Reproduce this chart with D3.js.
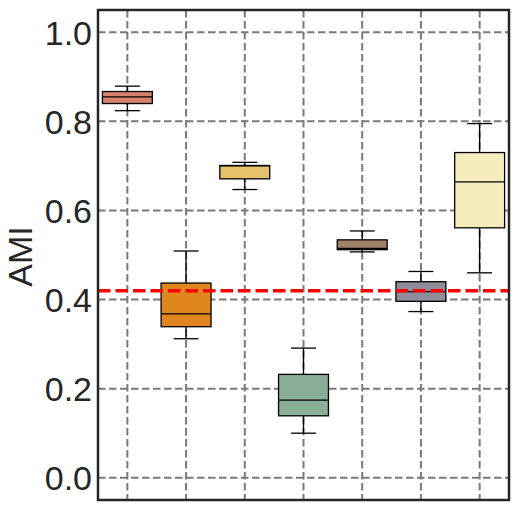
<!DOCTYPE html>
<html>
<head>
<meta charset="utf-8">
<script src="https://d3js.org/d3.v7.min.js"></script>
<style>
body { margin: 0; background: #fff; }
svg text { font-family: "Liberation Sans", Arial, sans-serif; fill: #262626; }
</style>
</head>
<body>
<div id="chart"></div>
<script>
// box statistics
var groups = ["g1", "g2", "g3", "g4", "g5", "g6", "g7"];
var whiskLow  = [0.824, 0.312, 0.647, 0.100, 0.507, 0.373, 0.460];
var q1        = [0.840, 0.339, 0.671, 0.139, 0.512, 0.396, 0.561];
var medians   = [0.855, 0.368, 0.700, 0.174, 0.515, 0.418, 0.664];
var q3        = [0.867, 0.437, 0.701, 0.232, 0.534, 0.440, 0.730];
var whiskHigh = [0.879, 0.509, 0.708, 0.291, 0.554, 0.463, 0.795];
var fills = ["#d4826e", "#e0861e", "#e5c26b", "#88ad98", "#a08268", "#8f8d99", "#f5ecbd"];
var yTicks = [0.0, 0.2, 0.4, 0.6, 0.8, 1.0];
var refLine = 0.42;

var W = 519, H = 511;
var margin = { top: 10, right: 10, bottom: 11, left: 98 };
var width = W - margin.left - margin.right;
var height = H - margin.top - margin.bottom;

var svg = d3.select("#chart").append("svg")
    .attr("width", W)
    .attr("height", H)
  .append("g")
    .attr("transform", "translate(" + margin.left + "," + margin.top + ")");

var x = d3.scalePoint()
  .domain(groups)
  .range([0, width])
  .padding(0.5);

var y = d3.scaleLinear()
  .domain([-0.05, 1.05])
  .range([height, 0]);

var boxW = x.step() * 0.85;

// grid
svg.append("g").selectAll("line.hg")
  .data(yTicks)
  .enter().append("line")
    .attr("x1", 0).attr("x2", width)
    .attr("y1", function(d) { return y(d); })
    .attr("y2", function(d) { return y(d); })
    .attr("stroke", "#7a7a7a")
    .attr("stroke-width", 2)
    .attr("stroke-dasharray", "7.5,3.5");

svg.append("g").selectAll("line.vg")
  .data(groups)
  .enter().append("line")
    .attr("x1", function(d) { return x(d); })
    .attr("x2", function(d) { return x(d); })
    .attr("y1", 0).attr("y2", height)
    .attr("stroke", "#7a7a7a")
    .attr("stroke-width", 2)
    .attr("stroke-dasharray", "7.5,3.5");

// boxes
var box = svg.selectAll("g.box")
  .data(groups)
  .enter().append("g")
    .attr("class", "box")
    .attr("transform", function(d) { return "translate(" + x(d) + ",0)"; });

box.append("line")
  .attr("y1", function(d, i) { return y(whiskLow[i]); })
  .attr("y2", function(d, i) { return y(q1[i]); })
  .attr("stroke", "#000").attr("stroke-width", 1.3);

box.append("line")
  .attr("y1", function(d, i) { return y(q3[i]); })
  .attr("y2", function(d, i) { return y(whiskHigh[i]); })
  .attr("stroke", "#000").attr("stroke-width", 1.3);

box.append("line")
  .attr("x1", -boxW / 4).attr("x2", boxW / 4)
  .attr("y1", function(d, i) { return y(whiskLow[i]); })
  .attr("y2", function(d, i) { return y(whiskLow[i]); })
  .attr("stroke", "#000").attr("stroke-width", 1.3);

box.append("line")
  .attr("x1", -boxW / 4).attr("x2", boxW / 4)
  .attr("y1", function(d, i) { return y(whiskHigh[i]); })
  .attr("y2", function(d, i) { return y(whiskHigh[i]); })
  .attr("stroke", "#000").attr("stroke-width", 1.3);

box.append("rect")
  .attr("x", -boxW / 2)
  .attr("width", boxW)
  .attr("y", function(d, i) { return y(q3[i]); })
  .attr("height", function(d, i) { return y(q1[i]) - y(q3[i]); })
  .attr("fill", function(d, i) { return fills[i]; })
  .attr("stroke", "#000").attr("stroke-width", 1.3);

box.append("line")
  .attr("x1", -boxW / 2).attr("x2", boxW / 2)
  .attr("y1", function(d, i) { return y(medians[i]); })
  .attr("y2", function(d, i) { return y(medians[i]); })
  .attr("stroke", "#000").attr("stroke-width", 1.3);

// reference line
svg.append("line")
  .attr("x1", 0).attr("x2", width)
  .attr("y1", y(refLine)).attr("y2", y(refLine))
  .attr("stroke", "#ff0000")
  .attr("stroke-width", 3.5)
  .attr("stroke-dasharray", "12.5,5");

// y axis labels
var yAxis = d3.axisLeft(y)
  .tickValues(yTicks)
  .tickFormat(d3.format(".1f"))
  .tickSize(0)
  .tickPadding(6);

svg.append("g")
  .attr("class", "y axis")
  .call(yAxis)
  .call(function(g) { g.select(".domain").remove(); })
  .selectAll("text")
    .style("font-size", "34px")
    .attr("dy", "0.35em");

// frame
svg.append("rect")
  .attr("x", 0).attr("y", 0)
  .attr("width", width).attr("height", height)
  .attr("fill", "none")
  .attr("stroke", "#262626")
  .attr("stroke-width", 2.5);

svg.append("text")
  .attr("transform", "translate(" + (-margin.left + 32) + "," + (height / 2 + 1.5) + ") rotate(-90)")
  .attr("text-anchor", "middle")
  .style("font-size", "34px")
  .text("AMI");
</script>
</body>
</html>
